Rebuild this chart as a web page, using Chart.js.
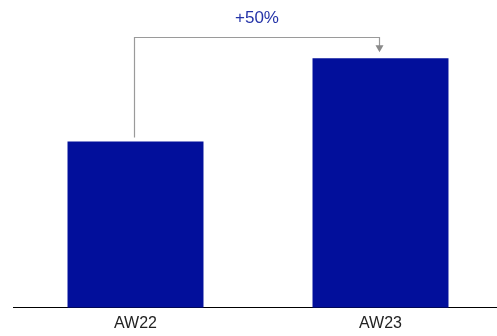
<!DOCTYPE html>
<html>
<head>
<meta charset="utf-8">
<script src="https://cdn.jsdelivr.net/npm/chart.js@4/dist/chart.umd.min.js"></script>
<style>
  html, body { margin: 0; padding: 0; background: #fff; overflow: hidden; }
  /* plot runs a little past the right edge, as in the reference */
  #wrap { width: 503px; height: 336px; position: relative; }
</style>
</head>
<body>
<div id="wrap"><canvas id="chart"></canvas></div>
<script>
// --- Data ---
const categories = ['AW22', 'AW23'];
const values = [100, 150];
const changeLabel = '+50%';

// bracket level (data units) above the tallest bar
const bracketLevel = 162.7;
const labelLevel = 174;

const BAR_COLOR = '#020f9b';

// --- Bracket annotation plugin ---
const bracketPlugin = {
  id: 'bracket',
  afterDatasetsDraw(chart) {
    const { ctx, scales: { x, y } } = chart;
    const x0 = Math.floor(x.getPixelForValue(0)) - 0.5;
    const x1 = Math.floor(x.getPixelForValue(1)) - 0.5;
    const yTop = Math.round(y.getPixelForValue(bracketLevel)) + 0.5;
    const yStart = y.getPixelForValue(values[0]) - 4;
    const yTip = y.getPixelForValue(values[1]) - 6;

    ctx.save();
    ctx.strokeStyle = '#9a9a9a';
    ctx.lineWidth = 1.2;
    ctx.beginPath();
    ctx.moveTo(x0, yStart);
    ctx.lineTo(x0, yTop);
    ctx.lineTo(x1, yTop);
    ctx.lineTo(x1, yTip - 6);
    ctx.stroke();

    // arrow head
    ctx.fillStyle = '#8a8a8a';
    ctx.beginPath();
    ctx.moveTo(x1 - 4, yTip - 7);
    ctx.lineTo(x1 + 4, yTip - 7);
    ctx.lineTo(x1, yTip);
    ctx.closePath();
    ctx.fill();

    // label
    ctx.fillStyle = '#2433a8';
    ctx.font = '17px "Liberation Sans", Arial, sans-serif';
    ctx.textAlign = 'center';
    ctx.textBaseline = 'middle';
    ctx.fillText(changeLabel, (x0 + x1) / 2, y.getPixelForValue(labelLevel));
    ctx.restore();
  }
};

new Chart(document.getElementById('chart'), {
  type: 'bar',
  data: {
    labels: categories,
    datasets: [{
      data: values,
      backgroundColor: BAR_COLOR,
      borderWidth: 0,
      categoryPercentage: 1,
      barPercentage: 0.555
    }]
  },
  options: {
    responsive: true,
    maintainAspectRatio: false,
    animation: false,
    layout: { padding: { left: 13, right: 0, top: 0, bottom: 3 } },
    plugins: { legend: { display: false }, tooltip: { enabled: false } },
    scales: {
      x: {
        grid: { display: false, tickLength: 6 },
        border: { display: true, color: '#000', width: 1 },
        ticks: {
          color: '#222',
          padding: 0,
          font: { family: '"Liberation Sans", Arial, sans-serif', size: 16 }
        }
      },
      y: {
        display: false,
        min: 0,
        max: 185
      }
    }
  },
  plugins: [bracketPlugin]
});
</script>
</body>
</html>
